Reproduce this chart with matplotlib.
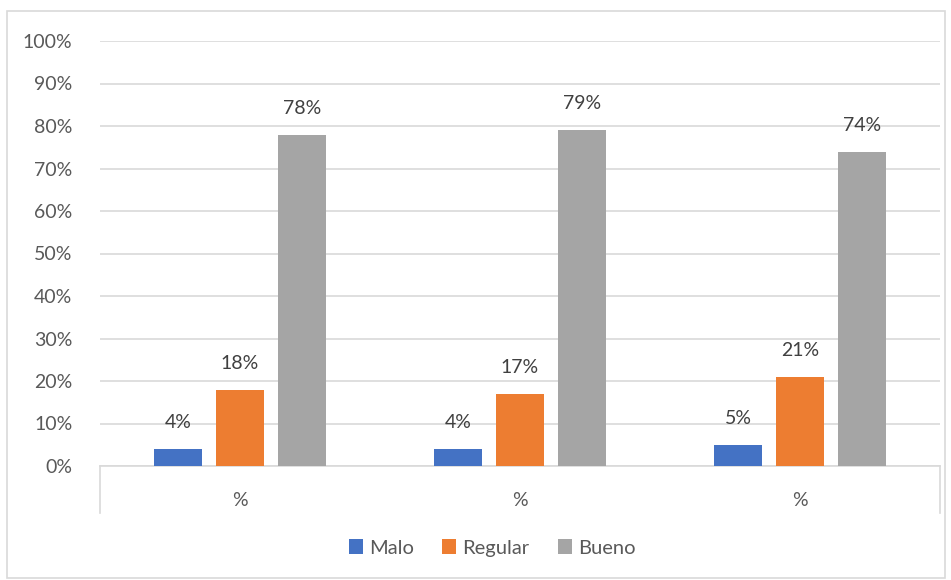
import matplotlib
matplotlib.use("Agg")
import matplotlib.pyplot as plt
from matplotlib.patches import Rectangle
import numpy as np

plt.rcParams['font.family'] = ['Lato', 'DejaVu Sans']

categories = ["%", "%", "%"]
series_names = ["Malo", "Regular", "Bueno"]
malo = [4, 4, 5]
regular = [18, 17, 21]
bueno = [78, 79, 74]
colors = ["#4472C4", "#ED7D31", "#A5A5A5"]
yticks = [0, 10, 20, 30, 40, 50, 60, 70, 80, 90, 100]

fig = plt.figure(figsize=(9.51, 5.80), dpi=100)
ax = fig.add_axes([100/951, 1-466/580, 840/951, (466-41)/580])

x = np.arange(len(categories))
width = 0.171
offsets = [-0.221, 0.0, 0.221]
text_col = "#595959"
for vals, off, col, name in zip([malo, regular, bueno], offsets, colors, series_names):
    ax.bar(x + off, vals, width, color=col, label=name, zorder=3)
    for xi, v in zip(x + off, vals):
        ax.text(xi, v + 6.2, f"{v}%", ha="center", va="center", fontsize=14, color="#404040")

ax.set_xlim(-0.5, 2.5)
ax.set_ylim(0, 100)
ax.set_yticks(yticks)
ax.set_yticklabels([f"{t}%" for t in yticks], fontsize=14, color=text_col)
ax.yaxis.grid(True, color="#D9D9D9", linewidth=1.2, zorder=0)
ax.tick_params(axis='y', length=0, pad=20)
ax.set_xticks(x)
ax.set_xticklabels(categories, fontsize=14, color=text_col)
ax.tick_params(axis='x', length=0, pad=19)
for s in ["top", "right", "left"]:
    ax.spines[s].set_visible(False)
ax.spines["bottom"].set_color("#D9D9D9")
ax.spines["bottom"].set_linewidth(1.2)

# vertical edge lines below axis
for xp in [-0.5, 2.5]:
    ax.plot([xp, xp], [0, -11], color="#D9D9D9", linewidth=1.2, clip_on=False, zorder=1)

leg = fig.legend(loc="center", bbox_to_anchor=(492/951, 1-548/580), ncol=3, frameon=False,
                 fontsize=14.5, handlelength=0.7, handleheight=0.7, handletextpad=0.3,
                 columnspacing=1.4)
for t in leg.get_texts():
    t.set_color(text_col)

fig.patches.append(Rectangle((7/951, 2/580), 938/951, 567/580, transform=fig.transFigure,
                             fill=False, edgecolor="#D9D9D9", linewidth=1.2))

fig.savefig("out.png", dpi=100)
